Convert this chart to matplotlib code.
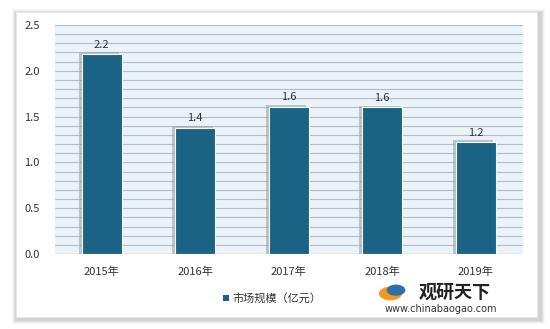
import matplotlib.pyplot as plt
import matplotlib.patches as mpatches
import numpy as np

plt.rcParams['font.family'] = ['Noto Sans CJK SC', 'DejaVu Sans']

years = ['2015年', '2016年', '2017年', '2018年', '2019年']
values = [2.18, 1.38, 1.61, 1.60, 1.22]
labels = ['2.2', '1.4', '1.6', '1.6', '1.2']
series_name = '市场规模（亿元）'

bar_color = '#1b6385'

fig = plt.figure(figsize=(5.5, 3.29), dpi=100)
fig.patch.set_facecolor('white')

# outer panel with soft shadow
W, H = 550, 329
px0, py0, px1, py1 = 16, 12, 537, 317
for i, a in enumerate([0.03, 0.04, 0.05, 0.06]):
    d = 5 - i
    fig.patches.append(mpatches.Rectangle(((px0 - d + 1) / W, 1 - (py1 + d + 2) / H),
                                          (px1 - px0 + 2 * d + 2) / W, (py1 - py0 + 2 * d) / H,
                                          transform=fig.transFigure, facecolor='black',
                                          alpha=a, edgecolor='none', zorder=-3))
panel = mpatches.Rectangle((px0 / W, 1 - py1 / H), (px1 - px0) / W, (py1 - py0) / H,
                           transform=fig.transFigure, facecolor='white',
                           edgecolor='#e8e8e8', lw=0.6, zorder=-2)
fig.patches.append(panel)

ax = fig.add_axes([0.1, 0.228, 0.85, 0.696])
ax.set_facecolor('#eaf2fa')
x = np.arange(len(years))
w = 0.43

# bar shadows
ax.bar(x - 0.03, np.array(values) + 0.02, w, color='#9aa3aa', alpha=0.6, zorder=2)
ax.bar(x, values, w, color=bar_color, edgecolor='white', linewidth=0.8, zorder=3)

for xi, v, lab in zip(x, values, labels):
    ax.text(xi, v + 0.05, lab, ha='center', va='bottom', fontsize=8, color='#333333', zorder=4)

ax.set_ylim(0, 2.5)
ax.set_xlim(-0.5, 4.5)
ax.set_yticks(np.arange(0, 2.51, 0.5))
ax.set_yticklabels([f'{t:.1f}' for t in np.arange(0, 2.51, 0.5)], fontsize=8, color='#333333')
ax.set_yticks(np.arange(0, 2.51, 0.1), minor=True)
ax.yaxis.grid(True, which='both', color='#b8bcc0', lw=0.8)
ax.set_axisbelow(True)
ax.set_xticks(x)
ax.set_xticklabels(years, fontsize=8, color='#333333')
ax.tick_params(axis='both', which='both', length=0, pad=9)
ax.tick_params(axis='y', pad=11)
for s in ax.spines.values():
    s.set_visible(False)
ax.axhline(0, color='#a0a4a8', lw=0.8, zorder=4)

# legend
fig.patches.append(mpatches.Rectangle((0.375, 0.06), 0.235, 0.09, transform=fig.transFigure,
                                      facecolor='white', edgecolor='none', zorder=1))
fig.patches.append(mpatches.Rectangle((0.405, 0.085), 0.011, 0.018, transform=fig.transFigure,
                                      facecolor=bar_color, edgecolor='none', zorder=2))
fig.text(0.423, 0.094, series_name, fontsize=8, color='#333333', va='center')

# logo
fig.patches.append(mpatches.Circle((0.71, 0.108), 0.021, transform=fig.transFigure,
                                   facecolor='#f39a1e', edgecolor='none', zorder=1))
fig.patches.append(mpatches.Circle((0.72, 0.118), 0.017, transform=fig.transFigure,
                                   facecolor='#2a6fa8', edgecolor='none', zorder=2))
fig.text(0.762, 0.112, '观研天下', fontsize=13, fontweight='bold', color='#222222', va='center')
fig.text(0.699, 0.062, 'www.chinabaogao.com', fontsize=7, color='#333333', va='center',
         family='DejaVu Sans')

fig.savefig('out.png', dpi=100)
